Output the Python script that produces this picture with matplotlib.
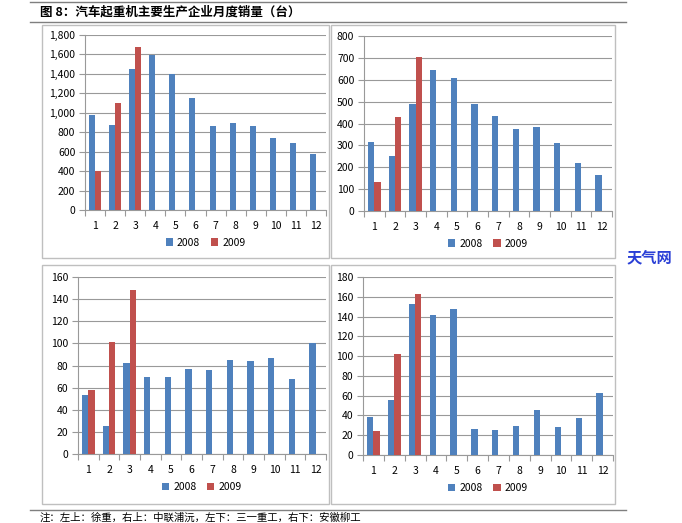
import numpy as np
import matplotlib
matplotlib.use('Agg')
import matplotlib.pyplot as plt
from matplotlib.patches import Rectangle
from matplotlib.lines import Line2D
from matplotlib.ticker import FuncFormatter

plt.rcParams['font.family'] = ['Noto Sans CJK SC', 'DejaVu Sans']

months = [str(m) for m in range(1, 13)]
series_names = ['2008', '2009']

# top left: 徐重
xz_2008 = [980, 870, 1450, 1590, 1400, 1150, 860, 895, 860, 745, 685, 575]
xz_2009 = [400, 1100, 1680]
# top right: 中联浦沅
zl_2008 = [315, 250, 487, 645, 610, 487, 435, 375, 383, 312, 218, 165]
zl_2009 = [133, 432, 705]
# bottom left: 三一重工
sy_2008 = [53, 25, 82, 70, 70, 77, 76, 85, 84, 87, 68, 100]
sy_2009 = [58, 101, 148]
# bottom right: 安徽柳工
lg_2008 = [38, 56, 153, 142, 148, 26, 25, 29, 46, 28, 37, 63]
lg_2009 = [24, 102, 163]

title = '图 8：汽车起重机主要生产企业月度销量（台）'
note = '注：左上：徐重，右上：中联浦沅，左下：三一重工，右下：安徽柳工'

blue = '#4F81BD'
red = '#C0504D'
grid_c = '#999999'

W, H = 682, 523
fig = plt.figure(figsize=(W / 100, H / 100), dpi=100)

def fx(px):
    return px / W

def fy(py):
    return 1 - py / H

# panel frames (pixels: x0, y0, x1, y1)
frames = [(42, 25, 329, 258), (331, 25, 615, 258), (42, 265, 329, 504), (331, 265, 615, 504)]
for x0, y0, x1, y1 in frames:
    fig.patches.append(Rectangle((fx(x0), fy(y1)), fx(x1 - x0), fy(y0) - fy(y1),
                                 transform=fig.transFigure, fill=False,
                                 edgecolor='#BFBFBF', linewidth=1.0))

# separators
for py in (2, 22, 510):
    fig.add_artist(Line2D([fx(30), fx(626)], [fy(py), fy(py)], transform=fig.transFigure,
                          color='#7F7F7F', linewidth=1.0))

fig.text(fx(40), fy(12), title, fontsize=9, fontweight='bold', va='center', ha='left')
fig.text(fx(40), fy(518), note, fontsize=7.5, va='center', ha='left')
fig.text(fx(649), fy(257), '天气网', fontsize=11, fontweight='bold', color='#2A3FD6',
         va='center', ha='center')

# axes rectangles in pixels: left, top, right, bottom
panels = [
    ((85, 35, 326, 210), xz_2008, xz_2009, 1800, 200, True),
    ((364, 36, 612, 211), zl_2008, zl_2009, 800, 100, False),
    ((78, 277, 326, 454), sy_2008, sy_2009, 160, 20, False),
    ((363, 277, 613, 455), lg_2008, lg_2009, 180, 20, False),
]

w = 0.3
for (l, t, r, b), s08, s09, ymax, step, comma in panels:
    ax = fig.add_axes([fx(l), fy(b), fx(r - l), fy(t) - fy(b)])
    x = np.arange(1, 13)
    ax.bar(x - w / 2, s08, width=w, color=blue, label=series_names[0], zorder=3)
    ax.bar(x[:len(s09)] + w / 2, s09, width=w, color=red, label=series_names[1], zorder=3)
    ax.set_xlim(0.5, 12.5)
    ax.set_ylim(0, ymax)
    ax.set_yticks(np.arange(0, ymax + 1, step))
    if comma:
        ax.yaxis.set_major_formatter(FuncFormatter(lambda v, p: '{:,.0f}'.format(v)))
    ax.set_xticks(np.arange(0.5, 13, 1))
    ax.set_xticklabels([])
    ax.set_xticks(x, minor=True)
    ax.set_xticklabels(months, minor=True)
    ax.tick_params(axis='x', which='major', length=4, color=grid_c, direction='out')
    ax.tick_params(axis='x', which='minor', length=0, pad=8, labelsize=7.5)
    ax.tick_params(axis='y', length=4, color=grid_c, labelsize=7.5, pad=3)
    ax.grid(axis='y', color=grid_c, linewidth=0.8, zorder=0)
    for s in ('top', 'right'):
        ax.spines[s].set_visible(False)
    for s in ('left', 'bottom'):
        ax.spines[s].set_color(grid_c)
        ax.spines[s].set_linewidth(0.8)
    ax.legend(loc='upper center', bbox_to_anchor=(0.5, -0.135), ncol=2, frameon=False,
              fontsize=7.5, handlelength=0.7, handleheight=0.7, handletextpad=0.4,
              columnspacing=1.0, borderaxespad=0)

fig.savefig('out.png', dpi=100)
